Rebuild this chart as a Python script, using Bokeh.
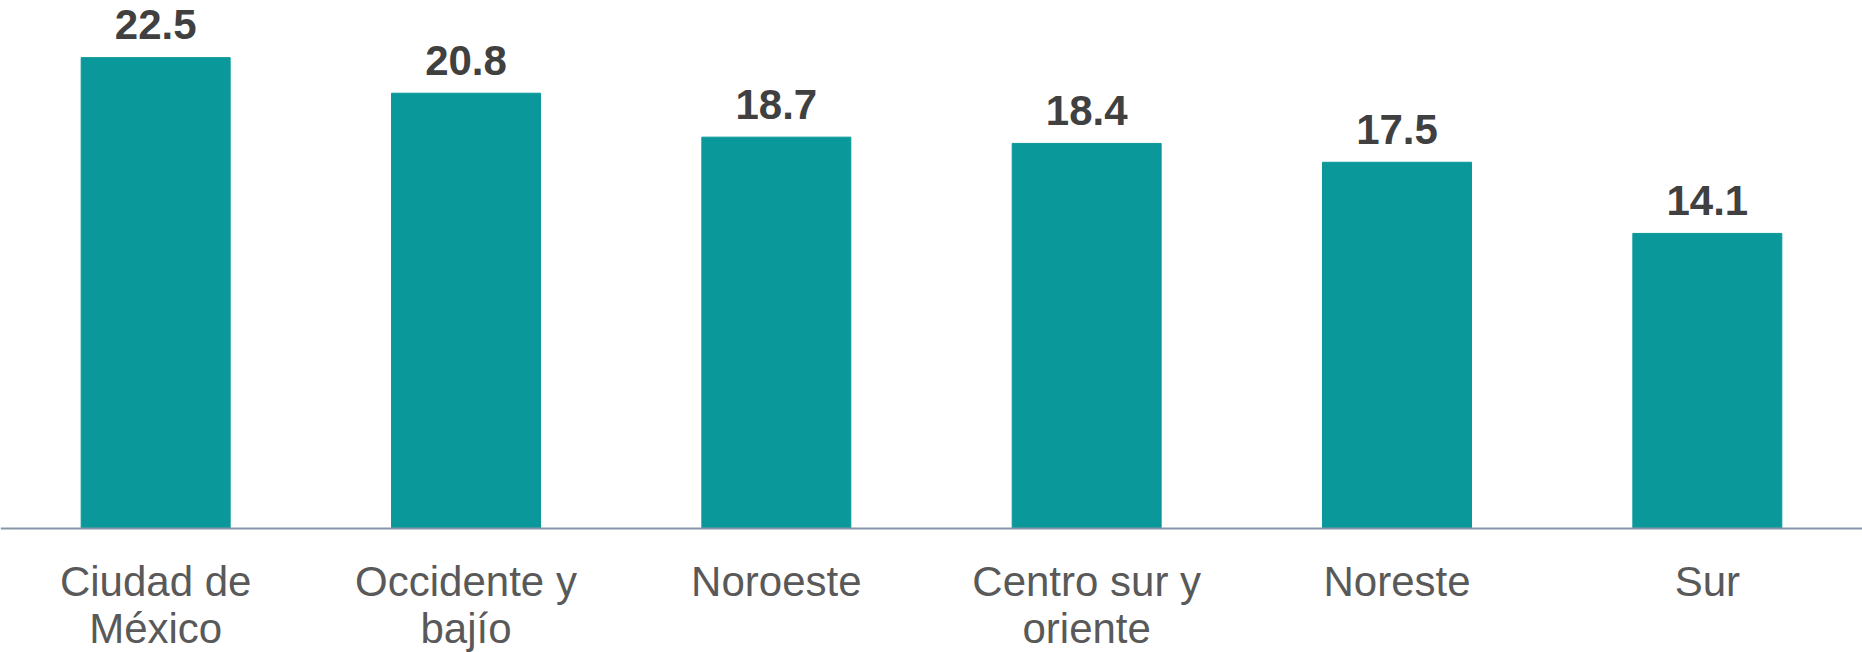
from bokeh.plotting import figure
from bokeh.models import ColumnDataSource, Range1d, Span
from bokeh.core.properties import value
from bokeh.embed import file_html
from bokeh.resources import INLINE

categories = ["Ciudad de México", "Occidente y bajío", "Noroeste", "Centro sur y oriente", "Noreste", "Sur"]
tick_labels = ["Ciudad de\nMéxico", "Occidente y\nbajío", "Noroeste", "Centro sur y\noriente", "Noreste", "Sur"]
values = [22.5, 20.8, 18.7, 18.4, 17.5, 14.1]
labels = ["22.5", "20.8", "18.7", "18.4", "17.5", "14.1"]

src = ColumnDataSource(dict(cat=categories, val=values, lab=labels, tick=tick_labels))

p = figure(x_range=categories, y_range=Range1d(-5.925, 25.23), width=1862, height=652,
           output_backend="svg", toolbar_location=None,
           min_border_left=0, min_border_right=0, min_border_top=0, min_border_bottom=0)

p.vbar(x="cat", top="val", width=0.48, source=src, color="#0A989A")
p.text(x="cat", y="val", text="lab", source=src, text_align="center", text_baseline="alphabetic",
       y_offset=-33, text_font=value("Liberation Sans"), text_font_style="bold",
       text_font_size="42px", text_color="#404040")

# category labels below the baseline
p.text(x="cat", y=0, text="tick", source=src, text_align="center", text_baseline="top",
       y_offset=29, text_font=value("Liberation Sans"), text_font_size="42px",
       text_color="#595959", text_line_height=1.0)

p.add_layout(Span(location=0, dimension="width", line_color="#8596A8", line_width=2))

p.xaxis.visible = False
p.yaxis.visible = False
p.xgrid.grid_line_color = None
p.ygrid.grid_line_color = None
p.outline_line_color = None

open("out.html", "w").write(file_html(p, INLINE))
